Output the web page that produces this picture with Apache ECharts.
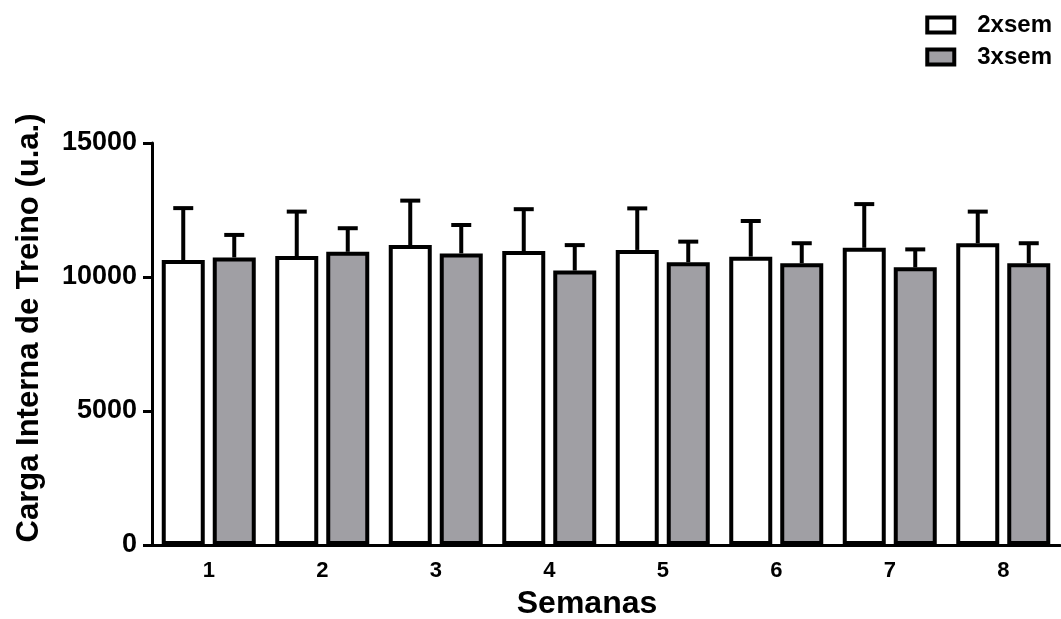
<!DOCTYPE html>
<html><head><meta charset="utf-8">
<script src="https://cdn.jsdelivr.net/npm/echarts@6/dist/echarts.min.js"></script>
<style>html,body{margin:0;padding:0;background:#fff}#c{width:1061px;height:619px}</style>
</head><body><div id="c"></div>
<script>
const categories = ['1','2','3','4','5','6','7','8'];
const seriesNames = ['2xsem','3xsem'];
const mean2x = [10630, 10780, 11190, 10970, 11010, 10760, 11090, 11260];
const err2x  = [12570, 12440, 12850, 12530, 12560, 12090, 12720, 12440];
const mean3x = [10730, 10940, 10880, 10240, 10550, 10510, 10360, 10510];
const err3x  = [11570, 11820, 11940, 11190, 11320, 11260, 11030, 11260];
const yTicks = [0, 5000, 10000, 15000];

const BW = 43, GAP = 8;
const font = '"Liberation Sans", Arial, sans-serif';
const chart = echarts.init(document.getElementById('c'));

function errSeries(tops, means, sign) {
  return {
    type: 'custom', z: 1, silent: true,
    data: tops.map((t, i) => [i, t, means[i]]),
    renderItem: function (params, api) {
      const i = api.value(0);
      const top = api.coord([i, api.value(1)]);
      const base = api.coord([i, api.value(2)]);
      const x = top[0] + sign * (BW + GAP) / 2;
      const st = { stroke: '#000', lineWidth: 4 };
      return { type: 'group', children: [
        { type: 'line', shape: { x1: x, y1: base[1], x2: x, y2: top[1] }, style: st },
        { type: 'line', shape: { x1: x - 10, y1: top[1], x2: x + 10, y2: top[1] }, style: st }
      ]};
    }
  };
}

chart.setOption({
  animation: false,
  backgroundColor: '#fff',
  grid: { left: 152, right: 1, top: 143, bottom: 74, containLabel: false, outerBoundsMode: 'none' },
  legend: {
    orient: 'vertical', right: 4, top: 8, itemWidth: 27, itemHeight: 15, itemGap: 8,
    icon: 'rect',
    data: seriesNames,
    itemStyle: { borderColor: '#000', borderWidth: 4 },
    textStyle: { fontFamily: font, fontWeight: 'bold', fontSize: 24, color: '#000', padding: [0, 0, 0, 18] }
  },
  xAxis: {
    type: 'category', data: categories,
    name: 'Semanas', nameLocation: 'middle', nameGap: 43,
    nameTextStyle: { fontFamily: font, fontWeight: 'bold', fontSize: 32, color: '#000', padding: [0, 38, 0, 0] },
    axisLine: { lineStyle: { color: '#000', width: 3 } },
    axisTick: { show: false },
    axisLabel: { fontFamily: font, fontWeight: 'bold', fontSize: 22, color: '#000', margin: 15 }
  },
  yAxis: {
    type: 'value', min: 0, max: 15000, interval: 5000,
    name: 'Carga Interna de Treino (u.a.)', nameLocation: 'middle', nameGap: 107,
    nameTextStyle: { fontFamily: font, fontWeight: 'bold', fontSize: 31, color: '#000', padding: [0, 0, 0, 32] },
    axisLine: { show: true, lineStyle: { color: '#000', width: 3 } },
    axisTick: { show: true, length: 9, lineStyle: { color: '#000', width: 3 } },
    axisLabel: { fontFamily: font, fontWeight: 'bold', fontSize: 27, color: '#000', margin: 15,
      formatter: v => String(v) },
    splitLine: { show: false }
  },
  series: [
    { name: seriesNames[0], type: 'bar', data: mean2x, barWidth: BW, barGap: (GAP / BW * 100) + '%', z: 2,
      itemStyle: { color: '#fff', borderColor: '#000', borderWidth: 4 } },
    { name: seriesNames[1], type: 'bar', data: mean3x, barWidth: BW, z: 2,
      itemStyle: { color: '#a09fa4', borderColor: '#000', borderWidth: 4 } },
    errSeries(err2x, mean2x, -1),
    errSeries(err3x, mean3x, 1)
  ]
});
</script></body></html>
